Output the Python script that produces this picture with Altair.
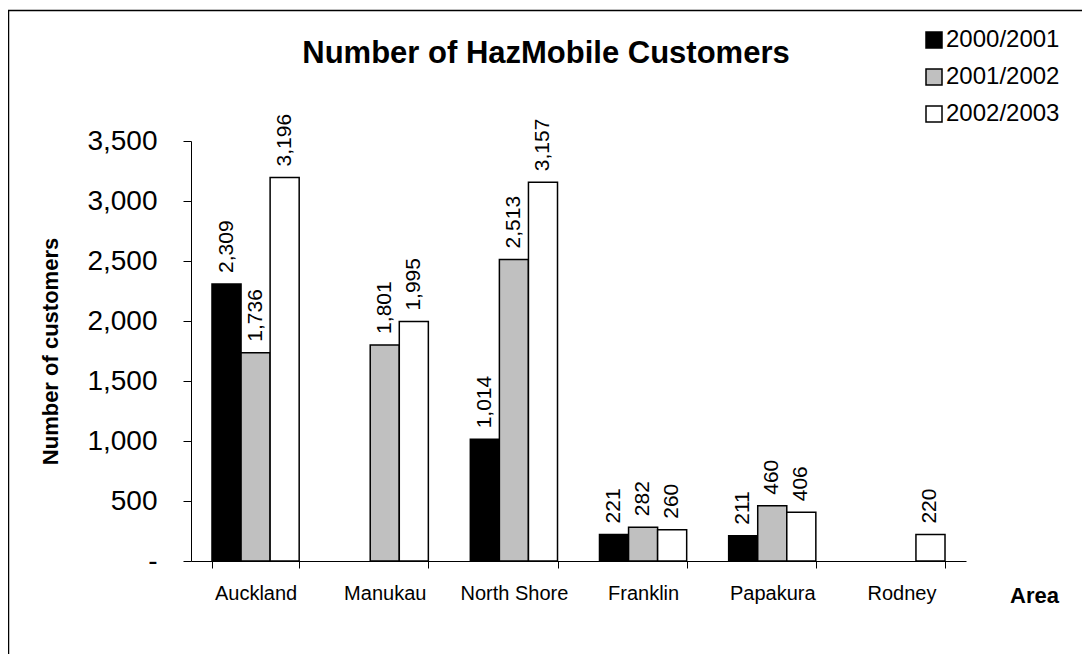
import altair as alt
import pandas as pd

areas = ["Auckland", "Manukau", "North Shore", "Franklin", "Papakura", "Rodney"]
series = ["2000/2001", "2001/2002", "2002/2003"]
v_2000_2001 = [2309, None, 1014, 221, 211, None]
v_2001_2002 = [1736, 1801, 2513, 282, 460, None]
v_2002_2003 = [3196, 1995, 3157, 260, 406, 220]
y_ticks = [0, 500, 1000, 1500, 2000, 2500, 3000, 3500]
colors = ["#000000", "#C0C0C0", "#FFFFFF"]
chart_title = ["Number of HazMobile Customers"]

rows = []
for s, vals in zip(series, [v_2000_2001, v_2001_2002, v_2002_2003]):
    for a, v in zip(areas, vals):
        if v is not None:
            rows.append({"Area": a, "Year": s, "Customers": v})
df = pd.DataFrame(rows)

FONT = "Arial, Liberation Sans, sans-serif"
W, H = 775, 420

x_enc = alt.X(
    "Area:N",
    sort=areas,
    scale=alt.Scale(paddingInner=0.325, paddingOuter=0.1625),
    axis=alt.Axis(
        title="Area",
        labelAngle=0,
        labelFontSize=20,
        labelFont=FONT,
        labelColor="black",
        labelBaseline="alphabetic",
        labelPadding=31,
        tickBand="extent",
        tickSize=7,
        tickColor="black",
        domainColor="black",
        titleFont=FONT,
        titleFontSize=22,
        titleFontWeight="bold",
        titleColor="black",
        titleX=843,
        titleY=41,
        titleAlign="center",
        titleBaseline="alphabetic",
    ),
)
xoff_enc = alt.XOffset("Year:N", scale=alt.Scale(domain=series, paddingInner=0, paddingOuter=0))
y_enc = alt.Y(
    "Customers:Q",
    scale=alt.Scale(domain=[0, 3500], nice=False),
    axis=alt.Axis(
        title="Number of customers",
        values=y_ticks,
        labelExpr="datum.value == 0 ? '-\u00a0\u00a0\u00a0\u00a0' : format(datum.value, ',')",
        labelFontSize=28,
        labelFont=FONT,
        labelColor="black",
        labelPadding=26,
        tickSize=8,
        tickColor="black",
        domainColor="black",
        grid=False,
        titleFont=FONT,
        titleFontSize=22,
        titleFontWeight="bold",
        titleColor="black",
        titleX=-134,
        titleY=210,
        titleAngle=270,
        titleAlign="center",
        titleBaseline="alphabetic",
    ),
)

bars = alt.Chart(df).mark_bar(stroke="black", strokeWidth=1.5).encode(
    x=x_enc,
    xOffset=xoff_enc,
    y=y_enc,
    fill=alt.Fill(
        "Year:N",
        scale=alt.Scale(domain=series, range=colors),
        title=None,
        legend=alt.Legend(
            orient="none",
            legendX=731,
            legendY=-113,
            symbolType="square",
            symbolSize=256,
            symbolStrokeColor="black",
            symbolStrokeWidth=1.5,
            labelFontSize=24,
            labelFont=FONT,
            labelColor="black",
            labelOffset=0,
            rowPadding=13,
        ),
    ),
)

labels = alt.Chart(df).mark_text(
    angle=270, align="left", baseline="middle", dx=11, fontSize=21, font=FONT, color="black"
).encode(
    x=alt.X("Area:N", sort=areas),
    xOffset=alt.XOffset("Year:N", scale=alt.Scale(domain=series)),
    y=alt.Y("Customers:Q"),
    text=alt.Text("Customers:Q", format=","),
)

title_mark = alt.Chart(pd.DataFrame({"t": chart_title})).mark_text(
    font=FONT, fontSize=31, fontWeight="bold", color="black",
    align="center", baseline="alphabetic",
).encode(x=alt.value(355), y=alt.value(-78), text="t:N")

frame = alt.Chart(pd.DataFrame({"k": [0]})).mark_rect(
    fill=None, stroke="black", strokeWidth=1.5, clip=False
).encode(
    x=alt.value(-182.5), x2=alt.value(1000), y=alt.value(-130.5), y2=alt.value(700)
)

chart = alt.layer(frame, bars, labels, title_mark).properties(
    width=W,
    height=H,
    padding={"left": 183, "top": 133, "right": 116, "bottom": 93},
    autosize=alt.AutoSizeParams(type="none"),
    background="white",
).configure_view(strokeWidth=0, stroke="transparent")

chart.save("out.html", embed_options={"renderer": "svg", "actions": False})
